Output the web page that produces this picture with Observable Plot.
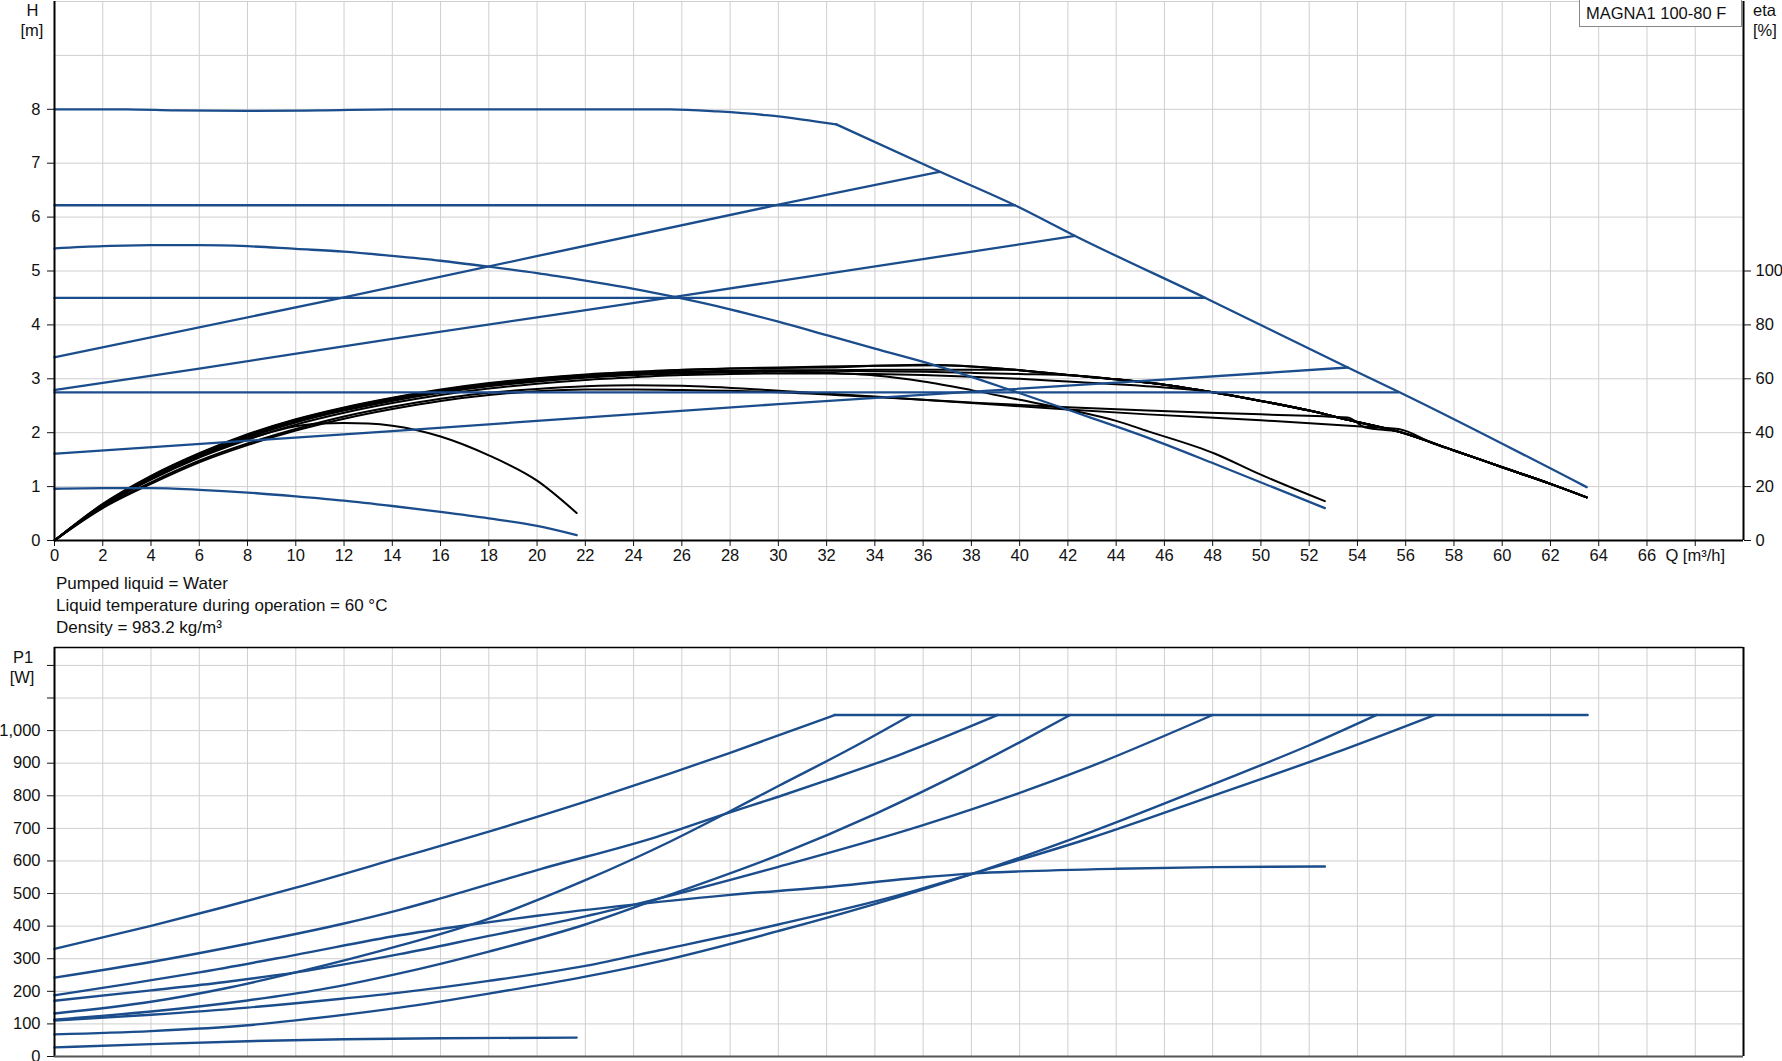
<!DOCTYPE html>
<html><head><meta charset="utf-8">
<script src="https://cdn.jsdelivr.net/npm/d3@7"></script>
<script src="https://cdn.jsdelivr.net/npm/@observablehq/plot@0.6"></script>
<style>
html,body{margin:0;padding:0;background:#fff;overflow:hidden}
#wrap{position:relative;width:1782px;height:1061px;overflow:hidden;font-family:"Liberation Sans",Arial,sans-serif;color:#111}
.t{position:absolute;white-space:nowrap;line-height:1}
#wrap svg{position:absolute;left:0}
</style></head><body><div id="wrap"></div>
<script>
// ---------- axis ticks ----------
const Q_TICKS = [0,2,4,6,8,10,12,14,16,18,20,22,24,26,28,30,32,34,36,38,40,42,44,46,48,50,52,54,56,58,60,62,64,66,68];
const Q_UNIT_LABEL = "Q [m³/h]";
const H_TICKS = [0,1,2,3,4,5,6,7,8];
const H_GRID = [1,2,3,4,5,6,7,8,9,10];
const ETA_TICKS = [0,20,40,60,80,100];
const P_TICKS = [0,100,200,300,400,500,600,700,800,900,1000,1100,1200];
const P_LABELED_MAX = 1000;

// ---------- head curves H [m] vs Q [m3/h] ----------
const H_max = [[0,8.0],[3,8.0],[5,7.98],[8,7.97],[11,7.98],[14,8.0],[20,8.0],[25.5,8.0],[27.5,7.96],[29.5,7.89],[31,7.81],[32.4,7.72]];
const H_maxLimit = [[32.4,7.72],[36.7,6.84],[39.8,6.22],[42.3,5.65],[47.7,4.5],[53.6,3.21],[55.7,2.76],[63.5,0.99]];
const H_const622 = [[0,6.22],[39.8,6.22]];
const H_const45 = [[0,4.5],[47.7,4.5]];
const H_const276 = [[0,2.75],[55.7,2.75]];
const H_prop34 = [[0,3.4],[11.9,4.5],[29.9,6.22],[36.7,6.84]];
const H_prop278 = [[0,2.79],[6,3.19],[14,3.74],[25.7,4.52],[42.3,5.65]];
const H_prop16 = [[0,1.61],[14,2.03],[30,2.53],[45.8,2.98],[53.6,3.21]];
const H_curve54 = [[0,5.42],[2,5.46],[4,5.48],[6,5.48],[8,5.46],[10,5.41],[12,5.36],[14,5.28],[16,5.19],[18,5.08],[20,4.96],[22,4.82],[24,4.67],[25.7,4.52],[28,4.29],[30,4.06],[32,3.81],[34,3.56],[36.5,3.25],[39.7,2.78],[41.9,2.44],[45.3,1.91],[48.1,1.42],[52.65,0.6]];
const H_min = [[0,0.96],[2,0.97],[4,0.97],[6,0.94],[8,0.89],[10,0.82],[12,0.74],[14,0.64],[16,0.53],[18,0.41],[20,0.27],[21.64,0.1]];

// ---------- efficiency curves eta [%] ----------
const E_max = [[0,0],[2,13.6],[4,24],[6,32.4],[8,39.4],[10,45],[12,49.4],[14,53],[16,56],[18,58.4],[20,60.2],[22,61.6],[24,62.6],[26,63.4],[28,63.8],[30,64],[32.4,64.2],[34,64.8],[36,65.2],[38,64.6],[40,63.2],[42,61.4],[44,59.8],[46,57.8],[48,55],[50,51.8],[52,48.2],[53.6,44.8],[55.7,40.4],[58,33.4],[60,27.2],[62,21],[63.5,16]];
const E_const622 = [[0,0],[2,13.2],[4,23.4],[6,31.8],[8,38.8],[10,44.4],[12,48.8],[14,52.4],[16,55.4],[18,57.8],[20,59.6],[22,61],[24,62],[26,62.6],[28,63],[30,63.2],[32,63.2],[34,63.4],[36,63.4],[38,63.4],[39.8,63.4]];
const E_prop34 = [[0,0],[2,13.4],[4,23.8],[6,32.2],[8,39.2],[10,44.8],[12,49.2],[14,52.8],[16,55.8],[18,58.2],[20,60],[22,61.4],[24,62.4],[26,63.2],[28,63.8],[30,64.2],[32,64.6],[34,64.8],[36.7,65]];
const E_prop278 = [[0,0],[2,13],[4,23.2],[6,31.6],[8,38.6],[10,44.2],[12,48.6],[14,52.2],[16,55.2],[18,57.6],[20,59.4],[22,60.8],[24,61.8],[26,62.4],[28,62.8],[30,63],[32,63],[34,62.8],[36,62.6],[38,62.2],[40,61.8],[42.3,61.2]];
const E_const45 = [[0,0],[2,12.8],[4,22.6],[6,30.8],[8,37.4],[10,43],[12,47.4],[14,51],[16,54],[18,56.4],[20,58.2],[22,59.6],[24,60.6],[26,61.4],[28,61.8],[30,62],[32,62],[34,61.8],[36,61.4],[38,60.8],[40,60],[42,59],[44,58],[46,56.8],[47.7,55.4]];
const E_curve54 = [[0,0],[2,13],[4,23],[6,31.4],[8,38.2],[10,43.8],[12,48.2],[14,51.8],[16,54.8],[18,57.2],[20,59],[22,60.4],[24,61.4],[26,62],[28,62.4],[30,62.6],[32,62.2],[34,61.2],[36,59],[38,55.8],[40,52.2],[42,48.6],[44,44.4],[45.3,40.6],[48.1,32.2],[49.9,24.8],[52.65,14.6]];
const E_const276 = [[0,0],[2,12.4],[4,21.6],[6,29.6],[8,36],[10,41.4],[12,46],[14,49.6],[16,52.6],[18,54.8],[20,56.2],[22,57.2],[24,57.6],[26,57.4],[30,55.6],[34,53.4],[38,51],[42,48.6],[45.3,46.8],[50,44.6],[54,42.4],[55.7,41.4],[57.2,35.8]];
const E_prop16 = [[0,0],[2,12],[4,21],[6,29],[8,35.4],[10,40.8],[12,45.2],[14,48.8],[16,51.8],[18,54],[20,55.4],[22,56],[24,56],[26,55.8],[30,55],[34,53.2],[38,51.2],[42,49.4],[45.3,48.2],[50,46.8],[53.6,45.6],[54.3,42]];
const E_min = [[0,0],[2,12.8],[4,23],[6,31.2],[8,37.6],[10,42.4],[11,43.4],[12,43.6],[13,43.4],[14,42.6],[16,38.6],[18,31.6],[20,22.2],[21.64,10.2]];

// ---------- power curves P1 [W] ----------
const P_max = [[0,330],[4,401],[7,458],[10,518],[14.3,610],[18,690],[22,782],[25.5,868],[28,932],[30,985],[32.34,1048]];
const P_limit = [[32.34,1048],[63.54,1048]];
const P_const622 = [[0,242],[4,290],[8,346],[12,408],[14.3,450],[16,485],[20,572],[25,675],[27.9,747],[30,797],[32,847],[35,925],[39.1,1048]];
const P_prop34 = [[0,132],[4,168],[7,208],[10,258],[14.3,340],[17.8,418],[22,541],[25.5,659],[27.8,745],[30,830],[33,945],[35.5,1048]];
const P_curve54 = [[0,188],[3,222],[6,258],[10,312],[14.3,372],[17,402],[20,432],[24,466],[28,496],[32,520],[36,550],[38.1,562],[40,568],[44,576],[48,581],[52.65,583]];
const P_const45 = [[0,171],[4,203],[7,228],[10,258],[14.3,314],[18,370],[22,430],[25.07,485],[30,582],[36,710],[42.6,880],[48,1048]];
const P_prop278 = [[0,113],[4,138],[8,172],[11,205],[14.3,255],[18,322],[22,405],[25.07,485],[30,618],[34,744],[38,887],[40,964],[42.1,1048]];
const P_const276 = [[0,110],[4,128],[8,150],[12,178],[14.3,196],[18,232],[22,278],[25.07,326],[30,405],[35,495],[38.1,562],[43,672],[48,800],[53,930],[57.2,1048]];
const P_prop16 = [[0,68],[4,78],[8,96],[10,111],[14.3,150],[18,193],[22,245],[25.07,292],[30,385],[35,490],[38.1,562],[43,690],[48,835],[52,955],[54.8,1048]];
const P_min = [[0,28],[4,38],[8,47],[12,53],[16,56],[21.64,58]];

// ---------- build tables ----------
const tailOf = (q0) => E_max.filter(p => p[0] > q0);
const last = a => a[a.length-1][0];
const rows = (obj) => Object.entries(obj).flatMap(([s, pts]) => pts.map(([q, v]) => ({s, q, v})));

const headRows = rows({H_max, H_maxLimit, H_const622, H_const45, H_const276, H_prop34, H_prop278, H_prop16, H_curve54, H_min});
const etaRows = rows({
  E_max, E_min, E_curve54,
  E_const622: E_const622.concat(tailOf(last(E_const622))),
  E_prop34: E_prop34.concat(tailOf(last(E_prop34))),
  E_prop278: E_prop278.concat(tailOf(last(E_prop278))),
  E_const45: E_const45.concat(tailOf(last(E_const45))),
  E_const276: E_const276.concat(tailOf(last(E_const276))),
  E_prop16: E_prop16.concat(tailOf(last(E_prop16)))
});
const powerRows = rows({P_max, P_limit, P_const622, P_prop34, P_curve54, P_const45, P_prop278, P_const276, P_prop16, P_min});

const BLUE = "#1b4d8c";
const GRID = "#cfcfcf";
const FONT = "'Liberation Sans', Arial, sans-serif";
const style = {fontFamily: FONT, fontSize: "16.5px", color: "#111", background: "transparent", overflow: "visible"};

const topPlot = Plot.plot({
  width: 1782, height: 580,
  marginLeft: 54, marginRight: 39, marginTop: 1, marginBottom: 40,
  x: {domain: [0, 70], label: null},
  y: {domain: [0, 10], label: null},
  style,
  marks: [
    Plot.gridX(Q_TICKS, {stroke: GRID, strokeOpacity: 1}),
    Plot.gridY(H_GRID, {stroke: GRID, strokeOpacity: 1}),
    Plot.axisX(Q_TICKS, {tickSize: 6, tickPadding: 3, label: null, tickFormat: d => d === 68 ? Q_UNIT_LABEL : String(d)}),
    Plot.axisY(H_TICKS, {anchor: "left", tickSize: 7, tickPadding: 7, label: null, tickFormat: d => String(d)}),
    Plot.axisY(ETA_TICKS.map(e => e / 20), {anchor: "right", tickSize: 7, tickPadding: 5, label: null, tickFormat: d => String(Math.round(d * 20))}),
    Plot.line(etaRows, {x: "q", y: d => d.v / 20, z: "s", stroke: "#000", strokeWidth: 2, curve: "monotone-x"}),
    Plot.line(headRows, {x: "q", y: "v", z: "s", stroke: BLUE, strokeWidth: 2.3, curve: "monotone-x"}),
    Plot.ruleX([0, 70], {stroke: "#000", strokeWidth: 2}),
    Plot.ruleY([0], {stroke: "#000", strokeWidth: 2})
  ]
});

const botPlot = Plot.plot({
  width: 1782, height: 430,
  marginLeft: 54, marginRight: 39, marginTop: 7, marginBottom: 14,
  x: {domain: [0, 70], label: null, axis: null},
  y: {domain: [0, 1255], label: null},
  style,
  marks: [
    Plot.gridX(Q_TICKS, {stroke: GRID, strokeOpacity: 1}),
    Plot.gridY(P_TICKS.filter(d => d > 0), {stroke: GRID, strokeOpacity: 1}),
    Plot.axisY(P_TICKS, {anchor: "left", tickSize: 7, tickPadding: 7, label: null, tickFormat: d => d > P_LABELED_MAX ? "" : d3.format(",")(d)}),
    Plot.line(powerRows, {x: "q", y: "v", z: "s", stroke: BLUE, strokeWidth: 2.4, curve: "monotone-x"}),
    Plot.ruleX([0, 70], {stroke: "#000", strokeWidth: 2}),
    Plot.ruleY([1255], {stroke: "#000", strokeWidth: 1.5}),
    Plot.ruleY([0], {stroke: "#555", strokeWidth: 2})
  ]
});

const wrap = document.getElementById("wrap");
topPlot.style.top = "0px";
botPlot.style.top = "640px";
wrap.append(topPlot, botPlot);

function txt(s, x, y, opts = {}) {
  const d = document.createElement("div");
  d.className = "t";
  d.textContent = s;
  d.style.left = x + "px";
  d.style.top = y + "px";
  d.style.fontSize = (opts.size || 16.5) + "px";
  d.style.transform = opts.center ? "translate(-50%,-50%)" : "translate(0,-50%)";
  wrap.append(d);
  return d;
}
txt("H", 32.5, 10, {center: true});
txt("[m]", 32, 30, {center: true});
txt("eta", 1753, 10);
txt("[%]", 1753, 30);
txt("P1", 23, 657, {center: true});
txt("[W]", 22, 677, {center: true});
txt("Pumped liquid = Water", 56, 583, {size: 17});
txt("Liquid temperature during operation = 60 °C", 56, 605, {size: 17});
txt("Density = 983.2 kg/m³", 56, 627, {size: 17});

const box = document.createElement("div");
box.style.cssText = "position:absolute;left:1579px;top:0px;width:163px;height:27px;border:1px solid #888;border-top:none;background:#fff;box-sizing:border-box;font-size:16.5px;line-height:27px;padding-left:6px;white-space:nowrap";
box.textContent = "MAGNA1 100-80 F";
wrap.append(box);
</script>
</body></html>
